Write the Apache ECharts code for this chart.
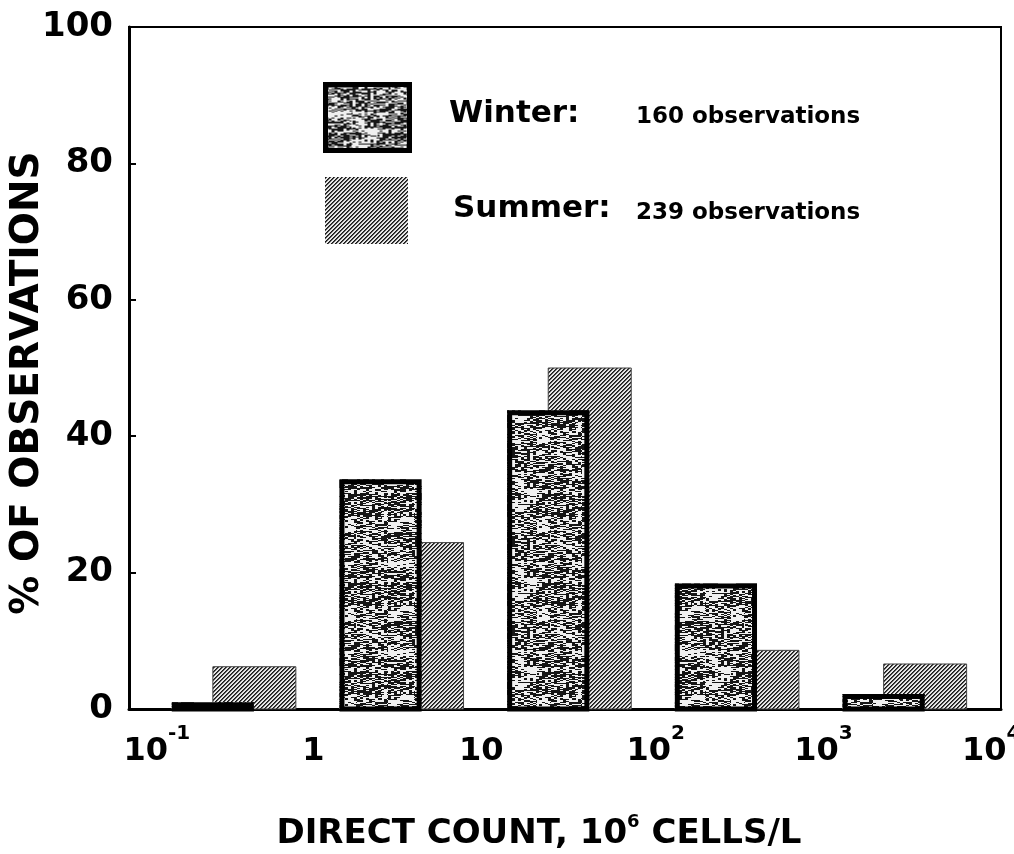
<!DOCTYPE html>
<html>
<head>
<meta charset="utf-8">
<script src="https://cdn.jsdelivr.net/npm/echarts@6/dist/echarts.min.js"></script>
<style>
html,body{margin:0;padding:0;background:#fff;}
#chart{width:1014px;height:854px;}
</style>
</head>
<body>
<div id="chart"></div>
<script>
// ---- data (decade lower edges in log10 units, % of observations) ----
var binLog = [-1, 0, 1, 2, 3];
var winterPct = [1.0, 33.7, 43.8, 18.4, 2.2];
var summerPct = [6.2, 24.4, 50.0, 8.6, 6.6];
var tickLogs = [-1, 0, 1, 2, 3, 4];
var yTicks = [0, 20, 40, 60, 80, 100];
var yTitle = '% OF OBSERVATIONS';
var winterLabel = 'Winter:';
var summerLabel = 'Summer:';
var winterObs = '160 observations';
var summerObs = '239 observations';

// ---- textures ----
function hatchCanvas() {
  var s = 8, c = document.createElement('canvas');
  c.width = s; c.height = s;
  var ctx = c.getContext('2d');
  var img = ctx.createImageData(s, s);
  for (var y = 0; y < s; y++) for (var x = 0; x < s; x++) {
    var k = (x + y) % 4;
    var v = (k === 0) ? 25 : (k === 1 ? 80 : 230);
    var i = (y * s + x) * 4;
    img.data[i] = img.data[i+1] = img.data[i+2] = v; img.data[i+3] = 255;
  }
  ctx.putImageData(img, 0, 0);
  return c;
}
function noiseCanvas() {
  var w = 97, h = 89, c = document.createElement('canvas');
  c.width = w; c.height = h;
  var ctx = c.getContext('2d');
  var img = ctx.createImageData(w, h);
  function hs(a, b) { var t = Math.sin(a * 12.9898 + b * 78.233) * 43758.5453; return t - Math.floor(t); }
  for (var y = 0; y < h; y++) {
    var rowBias = hs(1.7, Math.floor(y / 3)) * 0.35 - 0.12;
    for (var x = 0; x < w; x++) {
      var n = hs(Math.floor(x / 3) + 0.3 * (y % 2), y);
      var blot = hs(Math.floor(x / 13) + 5.1, Math.floor(y / 11) + 2.3);
      var v = (n + rowBias + (blot > 0.82 ? 0.35 : 0)) > 0.6 ? 240 : 22;
      var i = (y * w + x) * 4;
      img.data[i] = img.data[i+1] = img.data[i+2] = v; img.data[i+3] = 255;
    }
  }
  ctx.putImageData(img, 0, 0);
  return c;
}
var hatchPat = { image: hatchCanvas(), repeat: 'repeat' };
var noisePat = { image: noiseCanvas(), repeat: 'repeat' };

var FONT = 'DejaVu Sans';

function barSeries(name, vals, offLo, offHi, isWinter) {
  return {
    type: 'custom',
    name: name,
    data: binLog.map(function (b, i) { return [b, vals[i]]; }),
    renderItem: function (params, api) {
      var b = api.value(0), v = api.value(1);
      var p0 = api.coord([b + offLo, 0]);
      var p1 = api.coord([b + offHi, v]);
      var x = p0[0], y = p1[1], w = p1[0] - p0[0], h = p0[1] - p1[1];
      var children = [{
        type: 'rect',
        shape: { x: x, y: y, width: w, height: h },
        style: { fill: isWinter ? noisePat : hatchPat, stroke: isWinter ? null : '#444', lineWidth: isWinter ? 0 : 1 }
      }];
      if (isWinter) {
        var lw = 5;
        children.push({
          type: 'rect',
          shape: { x: x + lw / 2, y: y + lw / 2, width: w - lw, height: Math.max(h - lw / 2, 0.5) },
          style: { fill: null, stroke: '#000', lineWidth: lw }
        });
      }
      return { type: 'group', children: children };
    }
  };
}

var supStyle = { fontFamily: FONT, fontWeight: 'bold', fontSize: 20, verticalAlign: 'top', lineHeight: 20, color: '#000' };
var padStyle = { fontFamily: FONT, fontWeight: 'bold', fontSize: 20, verticalAlign: 'top', lineHeight: 20, color: 'rgba(0,0,0,0)' };

var chart = echarts.init(document.getElementById('chart'));
chart.setOption({
  backgroundColor: '#fff',
  animation: false,
  grid: { left: 129, right: 13, top: 27, bottom: 145, show: true, borderColor: '#000', borderWidth: 2, backgroundColor: 'transparent', outerBoundsMode: 'none', containLabel: false },
  xAxis: {
    type: 'value', min: -1.1, max: 4.1,
    splitLine: { show: false },
    axisLine: { onZero: false, lineStyle: { color: '#000', width: 3 } },
    axisTick: { show: false },
    axisLabel: {
      customValues: tickLogs,
      margin: 15,
      color: '#000',
      fontFamily: FONT, fontWeight: 'bold', fontSize: 32, lineHeight: 56,
      formatter: function (v) {
        if (v === 0) return '1';
        if (v === 1) return '10';
        var s = (v < 0 ? '-' + (-v) : String(v));
        return '{pad|' + s + '}10{sup|' + s + '}';
      },
      rich: { sup: supStyle, pad: padStyle }
    },
    name: 'DIRECT COUNT, 10{sup|6} CELLS/L',
    nameLocation: 'middle',
    nameGap: 104,
    nameTextStyle: {
      color: '#000', fontFamily: FONT, fontWeight: 'bold', fontSize: 34, lineHeight: 42,
      padding: [0, 52, 0, 0],
      rich: { sup: { fontFamily: FONT, fontWeight: 'bold', fontSize: 18, verticalAlign: 'top', lineHeight: 14, color: '#000' } }
    }
  },
  yAxis: {
    type: 'value', min: 0, max: 100, interval: 20,
    splitLine: { show: false },
    axisLine: { show: true, onZero: false, lineStyle: { color: '#000', width: 3 } },
    axisTick: { show: true, inside: true, length: 7, lineStyle: { color: '#000', width: 2 } },
    axisLabel: { margin: 16, color: '#000', fontFamily: FONT, fontWeight: 'bold', fontSize: 34,
      customValues: yTicks }
  },
  graphic: [
    { type: 'text', x: 28, y: 383, rotation: Math.PI / 2, style: { text: yTitle, fill: '#000', font: 'bold 39px "DejaVu Sans"', align: 'center', verticalAlign: 'middle' }, z: 10 },
    { type: 'rect', left: 323, top: 82, shape: { width: 84, height: 66 }, style: { fill: noisePat, stroke: '#000', lineWidth: 5 }, z: 10 },
    { type: 'text', left: 449, top: 98, style: { text: winterLabel, fill: '#000', font: 'bold 31px "DejaVu Sans"' }, z: 10 },
    { type: 'text', left: 636, top: 106, style: { text: winterObs, fill: '#000', font: 'bold 23px "DejaVu Sans"' }, z: 10 },
    { type: 'rect', left: 325, top: 177, shape: { width: 83, height: 67 }, style: { fill: hatchPat }, z: 10 },
    { type: 'text', left: 453, top: 193, style: { text: summerLabel, fill: '#000', font: 'bold 31px "DejaVu Sans"' }, z: 10 },
    { type: 'text', left: 636, top: 202, style: { text: summerObs, fill: '#000', font: 'bold 23px "DejaVu Sans"' }, z: 10 }
  ],
  series: [
    barSeries('Summer', summerPct, 0.40, 0.895, false),
    barSeries('Winter', winterPct, 0.155, 0.645, true)
  ]
});
</script>
</body>
</html>
